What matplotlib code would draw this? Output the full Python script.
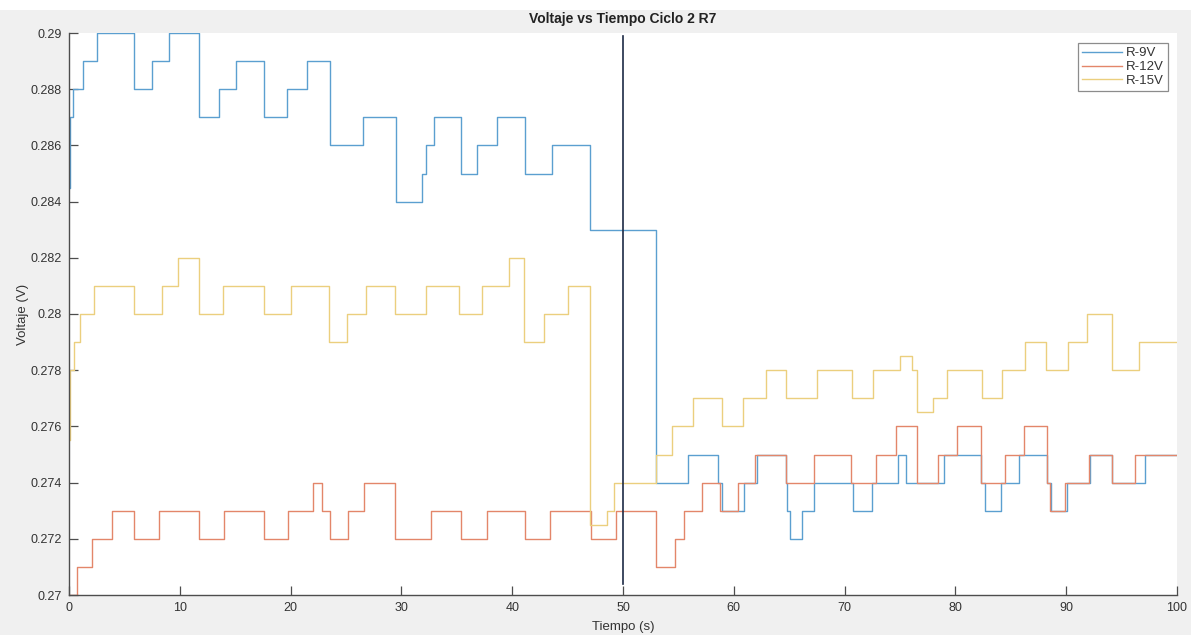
import matplotlib
matplotlib.use("Agg")
import matplotlib.pyplot as plt
from matplotlib.patches import Rectangle

plt.rcParams['font.family'] = ['Liberation Sans', 'DejaVu Sans']

# Step change times (s) and voltage levels (V) for each supply voltage
r9_t = [0, 0.1, 0.4, 1.3, 2.55, 5.87, 7.5, 9.0, 11.76, 13.5, 15.08, 17.6, 19.65,
        21.46, 23.56, 26.57, 29.5, 31.9, 32.2, 32.95, 35.36, 36.8, 38.6, 41.2,
        43.55, 47.0, 52.96, 55.9, 58.6, 58.9, 60.9, 62.1, 64.7, 64.8, 65.1, 66.2,
        67.2, 70.75, 72.5, 74.8, 75.5, 79.0, 82.3, 82.7, 84.1, 85.7, 88.3, 88.6,
        90.1, 92.15, 94.1, 97.1, 100]
r9_v = [0.2845, 0.287, 0.288, 0.289, 0.290, 0.288, 0.289, 0.290, 0.287, 0.288,
        0.289, 0.287, 0.288, 0.289, 0.286, 0.287, 0.284, 0.285, 0.286, 0.287,
        0.285, 0.286, 0.287, 0.285, 0.286, 0.283, 0.274, 0.275, 0.274, 0.273,
        0.274, 0.275, 0.274, 0.273, 0.272, 0.273, 0.274, 0.273, 0.274, 0.275,
        0.274, 0.275, 0.274, 0.273, 0.274, 0.275, 0.274, 0.273, 0.274, 0.275,
        0.274, 0.275, 0.275]

r12_t = [0, 0.75, 2.1, 3.85, 5.87, 8.1, 11.77, 14.0, 17.6, 19.8, 22.0, 22.85,
         23.6, 25.15, 26.6, 29.4, 32.65, 35.36, 37.7, 41.2, 43.4, 47.1, 49.4,
         52.96, 54.7, 55.55, 57.1, 58.75, 60.35, 61.9, 64.7, 67.25, 70.6, 72.8,
         74.6, 76.5, 78.4, 80.1, 82.3, 84.5, 86.2, 88.3, 88.5, 89.9, 92.05, 94.1,
         96.2, 100]
r12_v = [0.270, 0.271, 0.272, 0.273, 0.272, 0.273, 0.272, 0.273, 0.272, 0.273,
         0.274, 0.273, 0.272, 0.273, 0.274, 0.272, 0.273, 0.272, 0.273, 0.272,
         0.273, 0.272, 0.273, 0.271, 0.272, 0.273, 0.274, 0.273, 0.274, 0.275,
         0.274, 0.275, 0.274, 0.275, 0.276, 0.274, 0.275, 0.276, 0.274, 0.275,
         0.276, 0.274, 0.273, 0.274, 0.275, 0.274, 0.275, 0.275]

r15_t = [0, 0.1, 0.41, 1.0, 2.3, 5.9, 8.4, 9.8, 11.75, 13.9, 17.6, 20.0, 23.5,
         25.05, 26.8, 29.4, 32.2, 35.2, 37.3, 39.7, 41.1, 42.9, 45.0, 47.05,
         48.6, 49.2, 53.0, 54.4, 56.3, 58.9, 60.8, 62.9, 64.7, 67.5, 70.65, 72.6,
         75.0, 76.1, 76.5, 78.0, 79.2, 82.4, 84.2, 86.3, 88.2, 90.2, 91.9, 94.1,
         96.6, 100]
r15_v = [0.2755, 0.278, 0.279, 0.280, 0.281, 0.280, 0.281, 0.282, 0.280, 0.281,
         0.280, 0.281, 0.279, 0.280, 0.281, 0.280, 0.281, 0.280, 0.281, 0.282,
         0.279, 0.280, 0.281, 0.2725, 0.273, 0.274, 0.275, 0.276, 0.277, 0.276,
         0.277, 0.278, 0.277, 0.278, 0.277, 0.278, 0.2785, 0.278, 0.2765, 0.277,
         0.278, 0.277, 0.278, 0.279, 0.278, 0.279, 0.280, 0.278, 0.279, 0.279]

labels = ['R-9V', 'R-12V', 'R-15V']
colors = ['#5b9fd0', '#e3866a', '#ebcf7e']

# Marker line at the cycle midpoint
marker_t = 50
marker_v = [0.2704, 0.2899]

x_ticks = list(range(0, 101, 10))
y_ticks = [0.270, 0.272, 0.274, 0.276, 0.278, 0.280, 0.282, 0.284, 0.286, 0.288, 0.290]
y_tick_labels = ['0.27', '0.272', '0.274', '0.276', '0.278', '0.28', '0.282',
                 '0.284', '0.286', '0.288', '0.29']

W, H = 1191, 635
fig = plt.figure(figsize=(W / 100, H / 100), dpi=100, facecolor='#f0f0f0')
fig.patches.append(Rectangle((0, 1 - 10 / H), 1, 10 / H, transform=fig.transFigure,
                             facecolor='white', edgecolor='none', zorder=0))

ax = fig.add_axes([69 / W, 1 - 595 / H, (1177 - 69) / W, (595 - 33) / H])
ax.set_facecolor('white')

for t, v, lab, c in zip([r9_t, r12_t, r15_t], [r9_v, r12_v, r15_v], labels, colors):
    ax.step(t, v, where='post', color=c, lw=1.0, label=lab)

ax.plot([marker_t, marker_t], marker_v, color='#1d2a45', lw=1.2)

ax.set_xlim(0, 100)
ax.set_ylim(0.27, 0.29)
ax.set_xticks(x_ticks)
ax.set_yticks(y_ticks)
ax.set_yticklabels(y_tick_labels)

for side in ['top', 'right']:
    ax.spines[side].set_visible(False)
for side in ['left', 'bottom']:
    ax.spines[side].set_color('#4d4d4d')
    ax.spines[side].set_linewidth(1.0)
ax.tick_params(direction='in', length=6.5, width=0.9, colors='#4d4d4d',
               labelcolor='#333333', labelsize=9, pad=5)

ax.set_title('Voltaje vs Tiempo Ciclo 2 R7', fontsize=10, fontweight='bold',
             color='#222222', pad=7)
ax.set_xlabel('Tiempo (s)', fontsize=9.5, color='#333333', labelpad=5)
ax.set_ylabel('Voltaje (V)', fontsize=9.5, color='#333333', labelpad=1)

leg = ax.legend(loc='upper right', bbox_to_anchor=(0.992, 0.982), fontsize=9.5,
                frameon=True, fancybox=False, framealpha=1, edgecolor='#8c8c8c',
                handlelength=3.0, handletextpad=0.35, borderpad=0.3,
                labelspacing=0.12, borderaxespad=0)
leg.get_frame().set_linewidth(0.9)
for txt in leg.get_texts():
    txt.set_color('#333333')

fig.savefig('out.png', dpi=100, facecolor=fig.get_facecolor())
